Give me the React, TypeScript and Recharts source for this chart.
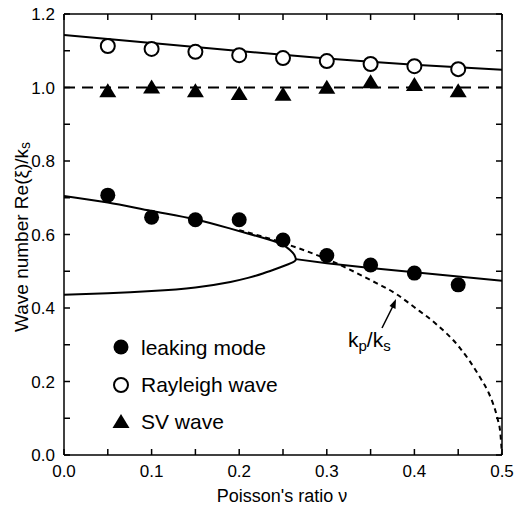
import React from 'react';
import {
    ComposedChart, Line, Scatter, XAxis, YAxis, ReferenceLine
} from 'recharts';

// measured points (Poisson's ratio)
const nuPts = [0.05, 0.1, 0.15, 0.2, 0.25, 0.3, 0.35, 0.4, 0.45];
const leakingPts = [0.707, 0.647, 0.64, 0.64, 0.585, 0.543, 0.517, 0.495, 0.463];
const rayleighPts = [1.113, 1.105, 1.097, 1.088, 1.08, 1.072, 1.064, 1.058, 1.05];
const svPts = [0.99, 1.0, 0.99, 0.982, 0.98, 0.999, 1.014, 1.007, 0.99];

// Rayleigh curve
const rayleighNu = [0, 0.05, 0.1, 0.15, 0.2, 0.25, 0.3, 0.35, 0.4, 0.45, 0.5];
const rayleighK = [1.143, 1.132, 1.121, 1.11, 1.099, 1.089, 1.079, 1.07, 1.062, 1.055, 1.048];

// leaking mode: upper branch out to the fold, lower branch back to nu = 0
const foldNu = [0, 0.05, 0.1, 0.15, 0.19, 0.224, 0.247, 0.258, 0.2625, 0.2645, 0.264, 0.261, 0.256, 0.247, 0.227, 0.21, 0.19, 0.15, 0.1, 0.05, 0];
const foldK = [0.705, 0.687, 0.664, 0.641, 0.616, 0.593, 0.575, 0.558, 0.546, 0.535, 0.529, 0.524, 0.519, 0.511, 0.494, 0.482, 0.471, 0.456, 0.446, 0.44, 0.436];

// leaking mode past the fold
const tailNu = [0.2645, 0.3, 0.35, 0.4, 0.45, 0.5];
const tailK = [0.533, 0.522, 0.509, 0.497, 0.486, 0.474];

// kp/ks
const kpNu = [0.2, 0.25, 0.3, 0.35, 0.38, 0.4, 0.425, 0.45, 0.475, 0.485, 0.49, 0.495, 0.498, 0.5];
const kpK = [0.612, 0.577, 0.533, 0.476, 0.437, 0.402, 0.356, 0.297, 0.211, 0.168, 0.138, 0.098, 0.062, 0];

const xTicks = [0, 0.05, 0.1, 0.15, 0.2, 0.25, 0.3, 0.35, 0.4, 0.45, 0.5];
const yTicks = [0, 0.1, 0.2, 0.3, 0.4, 0.5, 0.6, 0.7, 0.8, 0.9, 1.0, 1.1, 1.2];

const pairs = (xs: number[], ys: number[]) => xs.map((x, i) => ({ x, y: ys[i] }));

const FONT = '"Liberation Sans", Arial, Helvetica, sans-serif';
const TICK = 6;

const FilledDot = (p: any) => <circle cx={p.cx} cy={p.cy} r={7.5} fill="#000" />;
const OpenDot = (p: any) => <circle cx={p.cx} cy={p.cy} r={7} fill="#fff" stroke="#000" strokeWidth={2} />;
const Tri = (p: any) => (
    <path d={`M${p.cx},${p.cy - 8} L${p.cx + 8.5},${p.cy + 6} L${p.cx - 8.5},${p.cy + 6} Z`} fill="#000" />
);

const LeftTick = (props: any) => {
    const { x, y, payload } = props;
    const v = payload.value as number;
    const major = Math.round(v * 10) % 2 === 0;
    return (
        <g>
            <line x1={x} x2={x + TICK} y1={y} y2={y} stroke="#000" strokeWidth={1.5} />
            {major && (
                <text x={x - 9} y={y + 6} textAnchor="end" fontSize={17} fontFamily={FONT} fill="#000">
                    {v.toFixed(1)}
                </text>
            )}
        </g>
    );
};

const RightTick = (props: any) => {
    const { x, y } = props;
    return <line x1={x - TICK} x2={x} y1={y} y2={y} stroke="#000" strokeWidth={1.5} />;
};

const BottomTick = (props: any) => {
    const { x, y, payload } = props;
    const v = payload.value as number;
    const major = Math.round(v * 100) % 10 === 0;
    return (
        <g>
            <line x1={x} x2={x} y1={y} y2={y - TICK} stroke="#000" strokeWidth={1.5} />
            {major && (
                <text x={x} y={y + 22} textAnchor="middle" fontSize={17} fontFamily={FONT} fill="#000">
                    {v.toFixed(1)}
                </text>
            )}
        </g>
    );
};

const TopTick = (props: any) => {
    const { x, y } = props;
    return <line x1={x} x2={x} y1={y} y2={y + TICK} stroke="#000" strokeWidth={1.5} />;
};

export default function App() {
    const axisLine = { stroke: '#000', strokeWidth: 1.5 };
    return (
        <div style={{ position: 'absolute', left: 0, top: 0, width: 515, height: 508, background: '#fff' }}>
            <ComposedChart width={515} height={508} margin={{ top: 0, right: 0, bottom: 0, left: 0 }}>
                <XAxis
                    xAxisId="b" type="number" dataKey="x" domain={[0, 0.5]} ticks={xTicks}
                    height={53} tickSize={0} tickMargin={0} axisLine={axisLine} tick={<BottomTick />}
                    allowDataOverflow interval={0}
                />
                <XAxis
                    xAxisId="t" orientation="top" type="number" dataKey="x" domain={[0, 0.5]} ticks={xTicks}
                    height={14} tickSize={0} tickMargin={0} axisLine={axisLine} tick={<TopTick />}
                    allowDataOverflow interval={0}
                />
                <YAxis
                    yAxisId="l" type="number" dataKey="y" domain={[0, 1.2]} ticks={yTicks}
                    width={64} tickSize={0} tickMargin={0} axisLine={axisLine} tick={<LeftTick />}
                    allowDataOverflow interval={0}
                />
                <YAxis
                    yAxisId="r" orientation="right" type="number" dataKey="y" domain={[0, 1.2]} ticks={yTicks}
                    width={13} tickSize={0} tickMargin={0} axisLine={axisLine} tick={<RightTick />}
                    allowDataOverflow interval={0}
                />

                <ReferenceLine xAxisId="b" yAxisId="l" y={1} stroke="#000" strokeWidth={1.8} strokeDasharray="11 7" />

                <Line xAxisId="b" yAxisId="l" data={pairs(rayleighNu, rayleighK)} dataKey="y" type="linear"
                    stroke="#000" strokeWidth={2} dot={false} isAnimationActive={false} />
                <Line xAxisId="b" yAxisId="l" data={pairs(kpNu, kpK)} dataKey="y" type="monotone"
                    stroke="#000" strokeWidth={2} strokeDasharray="5 4" dot={false} isAnimationActive={false} />
                <Line xAxisId="b" yAxisId="l" data={pairs(foldNu, foldK)} dataKey="y" type="natural"
                    stroke="#000" strokeWidth={2} dot={false} isAnimationActive={false} />
                <Line xAxisId="b" yAxisId="l" data={pairs(tailNu, tailK)} dataKey="y" type="linear"
                    stroke="#000" strokeWidth={2} dot={false} isAnimationActive={false} />

                <Scatter xAxisId="b" yAxisId="l" data={pairs(nuPts, rayleighPts)} shape={OpenDot} isAnimationActive={false} />
                <Scatter xAxisId="b" yAxisId="l" data={pairs(nuPts, svPts)} shape={Tri} isAnimationActive={false} />
                <Scatter xAxisId="b" yAxisId="l" data={pairs(nuPts, leakingPts)} shape={FilledDot} isAnimationActive={false} />
            </ComposedChart>

            <svg width={515} height={508} style={{ position: 'absolute', left: 0, top: 0, pointerEvents: 'none' }}
                fontFamily={FONT} fill="#000">
                {/* axis titles */}
                <text x={282} y={502} textAnchor="middle" fontSize={18}>Poisson's ratio ν</text>
                <text transform="translate(28,332) rotate(-90)" textAnchor="start" fontSize={19}>
                    Wave number Re(ξ)/k<tspan fontSize={14} dy={2}>s</tspan>
                </text>

                {/* legend */}
                <circle cx={121} cy={347} r={7.5} fill="#000" />
                <text x={141} y={355} fontSize={21}>leaking mode</text>
                <circle cx={121} cy={385} r={7} fill="#fff" stroke="#000" strokeWidth={2} />
                <text x={141} y={392} fontSize={21}>Rayleigh wave</text>
                <path d="M121,414 L129.5,428 L112.5,428 Z" fill="#000" />
                <text x={141} y={429} fontSize={21}>SV wave</text>

                {/* kp/ks annotation */}
                <text x={348} y={347} fontSize={21}>
                    k<tspan fontSize={15} dy={4}>p</tspan><tspan dy={-4}>/k</tspan><tspan fontSize={15} dy={4}>s</tspan>
                </text>
                <line x1={382} y1={328} x2={393} y2={306} stroke="#000" strokeWidth={1.5} />
                <path d="M396,299 L395.5,309 L389.5,306 Z" fill="#000" />
            </svg>
        </div>
    );
}
